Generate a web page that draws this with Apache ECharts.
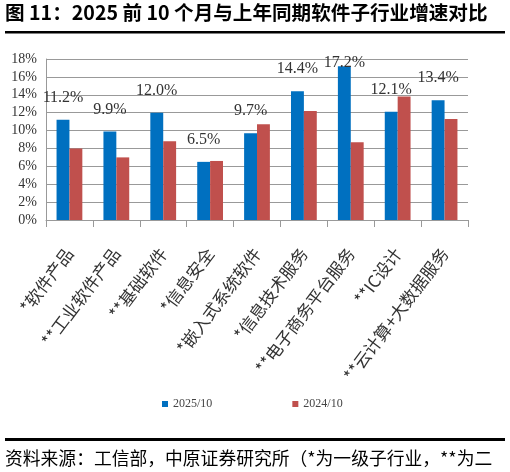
<!DOCTYPE html>
<html>
<head>
<meta charset="utf-8">
<script src="https://cdn.jsdelivr.net/npm/echarts@6/dist/echarts.min.js"></script>
<style>
  html, body { margin: 0; padding: 0; background: #fff; }
  #main { width: 510px; height: 472px; }
</style>
</head>
<body>
<div id="main"></div>
<script>
// 软件子行业
var categories = ['*软件产品', '**工业软件产品', '**基础软件', '*信息安全', '*嵌入式系统软件',
  '*信息技术服务', '**电子商务平台服务', '**IC设计', '**云计算+大数据服务'];
// 2025前10个月 增速 (%)
var growth2025 = [11.2, 9.9, 12.0, 6.5, 9.7, 14.4, 17.2, 12.1, 13.4];
// 上年同期 增速 (%)
var growth2024 = [8.0, 7.0, 8.8, 6.6, 10.7, 12.2, 8.7, 13.8, 11.3];
var yTicks = [0, 2, 4, 6, 8, 10, 12, 14, 16, 18];

var numFont = '"Liberation Serif", serif';
var cjkFont = '"Noto Sans CJK SC", sans-serif';

var chart = echarts.init(document.getElementById('main'));

// 17.2% 的标签贴近柱顶
var blueData = growth2025.map(function (v, i) {
  if (i === 6) return { value: v, label: { distance: -5 } };
  return v;
});

chart.setOption({
  animation: false,
  graphic: [
    { type: 'text', left: 5, top: 3,
      style: { text: '图 11：2025 前 10 个月与上年同期软件子行业增速对比',
        font: 'bold 19.6px ' + cjkFont, fill: '#000' } },
    { type: 'rect', shape: { x: 5, y: 31, width: 500, height: 2.5 }, style: { fill: '#000' } },
    { type: 'rect', shape: { x: 5, y: 438, width: 500, height: 3 }, style: { fill: '#000' } },
    { type: 'text', left: 5, top: 449,
      style: { text: '资料来源：工信部，中原证券研究所（*为一级子行业，**为二',
        font: '17.8px ' + cjkFont, fill: '#000' } }
  ],
  legend: {
    left: 157, top: 393,
    itemWidth: 6, itemHeight: 6, itemGap: 80,
    icon: 'rect',
    textStyle: { fontFamily: numFont, fontSize: 12, color: '#444' },
    data: ['2025/10', '2024/10']
  },
  grid: { left: 46, right: 42, top: 59, bottom: 252, containLabel: false },
  xAxis: {
    type: 'category',
    data: categories,
    axisLine: { lineStyle: { color: '#999' } },
    axisTick: { show: true, length: 7, lineStyle: { color: '#999' } },
    axisLabel: { interval: 0, rotate: 53, margin: 30, fontFamily: cjkFont, fontSize: 17, color: '#333' }
  },
  yAxis: {
    type: 'value',
    min: yTicks[0], max: yTicks[yTicks.length - 1], interval: 2,
    axisLine: { show: true, lineStyle: { color: '#999' } },
    axisTick: { show: false },
    splitLine: { lineStyle: { color: '#999', width: 1 } },
    axisLabel: { formatter: '{value}%', margin: 9, fontFamily: numFont, fontSize: 14, color: '#333' }
  },
  series: [
    {
      name: '2025/10', type: 'bar', data: blueData,
      barGap: '0%', barCategoryGap: '45%',
      itemStyle: { color: '#0070C0' },
      label: { show: true, position: 'top', distance: 14,
        formatter: function (p) { return p.value.toFixed(1) + '%'; },
        fontFamily: numFont, fontSize: 16, color: '#333' }
    },
    {
      name: '2024/10', type: 'bar', data: growth2024,
      itemStyle: { color: '#C0504D' }
    }
  ]
});
</script>
</body>
</html>
